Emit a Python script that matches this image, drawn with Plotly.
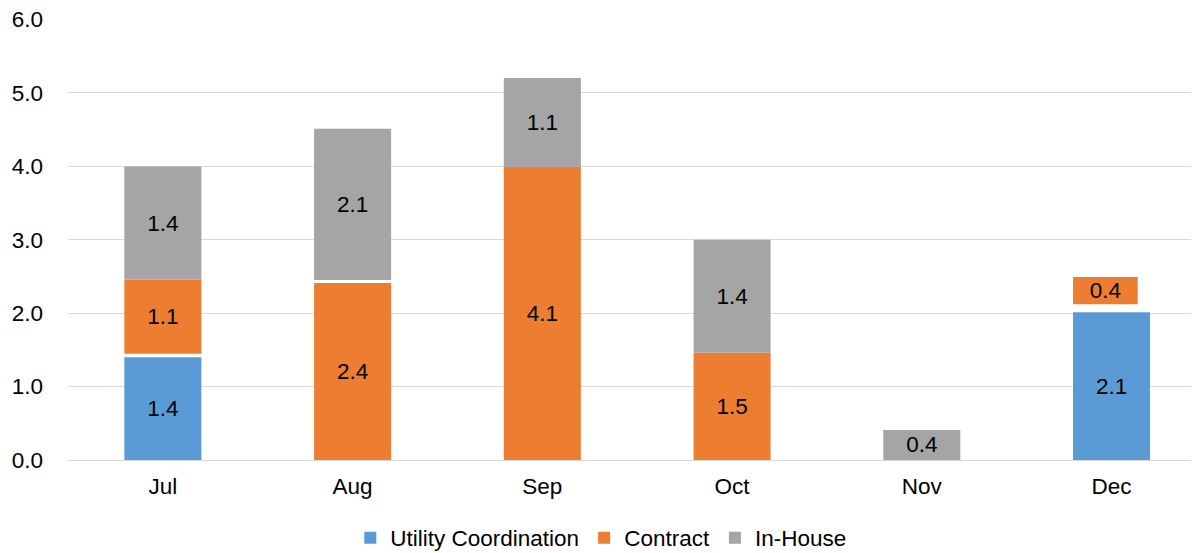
import plotly.graph_objects as go

months = ["Jul", "Aug", "Sep", "Oct", "Nov", "Dec"]
utility = [1.40, None, None, None, None, 2.01]
contract = [1.01, 2.41, 3.99, 1.46, None, 0.37]
inhouse = [1.54, 2.06, 1.21, 1.54, 0.41, None]
gap_below_contract = [0.045, 0, 0, 0, 0, 0.11]
gap_below_inhouse = [0, 0.04, 0, 0, 0, 0]
utility_labels = ["1.4", "", "", "", "", "2.1"]
contract_labels = ["1.1", "2.4", "4.1", "1.5", "", "0.4"]
inhouse_labels = ["1.4", "2.1", "1.1", "1.4", "0.4", ""]
contract_widths = [0.406, 0.406, 0.406, 0.406, 0.406, 0.341]
y_ticks = [0, 1, 2, 3, 4, 5, 6]
y_tick_labels = ["0.0", "1.0", "2.0", "3.0", "4.0", "5.0", "6.0"]

def z(v):
    return 0 if v is None else v

contract_base = [z(u) + g for u, g in zip(utility, gap_below_contract)]
inhouse_base = [cb + z(c) + g for cb, c, g in zip(contract_base, contract, gap_below_inhouse)]

FONT = "Arial, Liberation Sans, sans-serif"
FS = 22.5
BLUE = "#5B9BD5"
ORANGE = "#ED7D31"
GRAY = "#A5A5A5"

# page body has an 8px default margin; figure sized/placed to compensate
W, H = 1191, 545
ML, MT, MB = 59.6, 11, 93
PW = W - ML
PH = H - MT - MB

common = dict(
    textposition="inside",
    insidetextanchor="middle",
    textangle=0,
    constraintext="none",
    textfont=dict(family=FONT, size=FS, color="#000000"),
    hoverinfo="skip",
)

fig = go.Figure()
fig.add_trace(go.Bar(
    name="Utility Coordination", x=months, y=utility, base=[0] * 6,
    width=0.406, offset=-0.203, marker=dict(color=BLUE, line=dict(width=0)),
    text=utility_labels, **common))
fig.add_trace(go.Bar(
    name="Contract", x=months, y=contract, base=contract_base,
    width=contract_widths, offset=-0.203, marker=dict(color=ORANGE, line=dict(width=0)),
    text=contract_labels, **common))
fig.add_trace(go.Bar(
    name="In-House", x=months, y=inhouse, base=inhouse_base,
    width=0.406, offset=-0.203, marker=dict(color=GRAY, line=dict(width=0)),
    text=inhouse_labels, **common))

fig.update_layout(
    width=W, height=H,
    margin=dict(l=ML, r=0, t=MT, b=MB, autoexpand=False),
    barmode="overlay",
    paper_bgcolor="white", plot_bgcolor="white",
    font=dict(family=FONT, size=FS, color="#000000"),
    showlegend=True,
    legend=dict(
        orientation="h", x=(342 - ML) / PW, xanchor="left",
        y=-78 / PH, yanchor="middle",
        font=dict(family=FONT, size=FS, color="#000000"),
        bgcolor="rgba(0,0,0,0)", traceorder="normal",
    ),
    xaxis=dict(
        range=[-0.5, -0.5 + PW / 189.8],
        showgrid=False, showline=False, zeroline=False, ticks="",
        tickfont=dict(family=FONT, size=FS, color="#000000"),
        ticklabelstandoff=10,
    ),
    yaxis=dict(
        range=[0, 6.004], tickmode="array", tickvals=y_ticks, ticktext=y_tick_labels,
        showgrid=True, gridcolor="#D9D9D9", gridwidth=1.3,
        zeroline=True, zerolinecolor="#D9D9D9", zerolinewidth=1.3,
        showline=False, ticks="",
        tickfont=dict(family=FONT, size=FS, color="#000000"),
        ticklabelstandoff=24, ticklabeloverflow="allow",
    ),
)

fig.write_html("out.html")
